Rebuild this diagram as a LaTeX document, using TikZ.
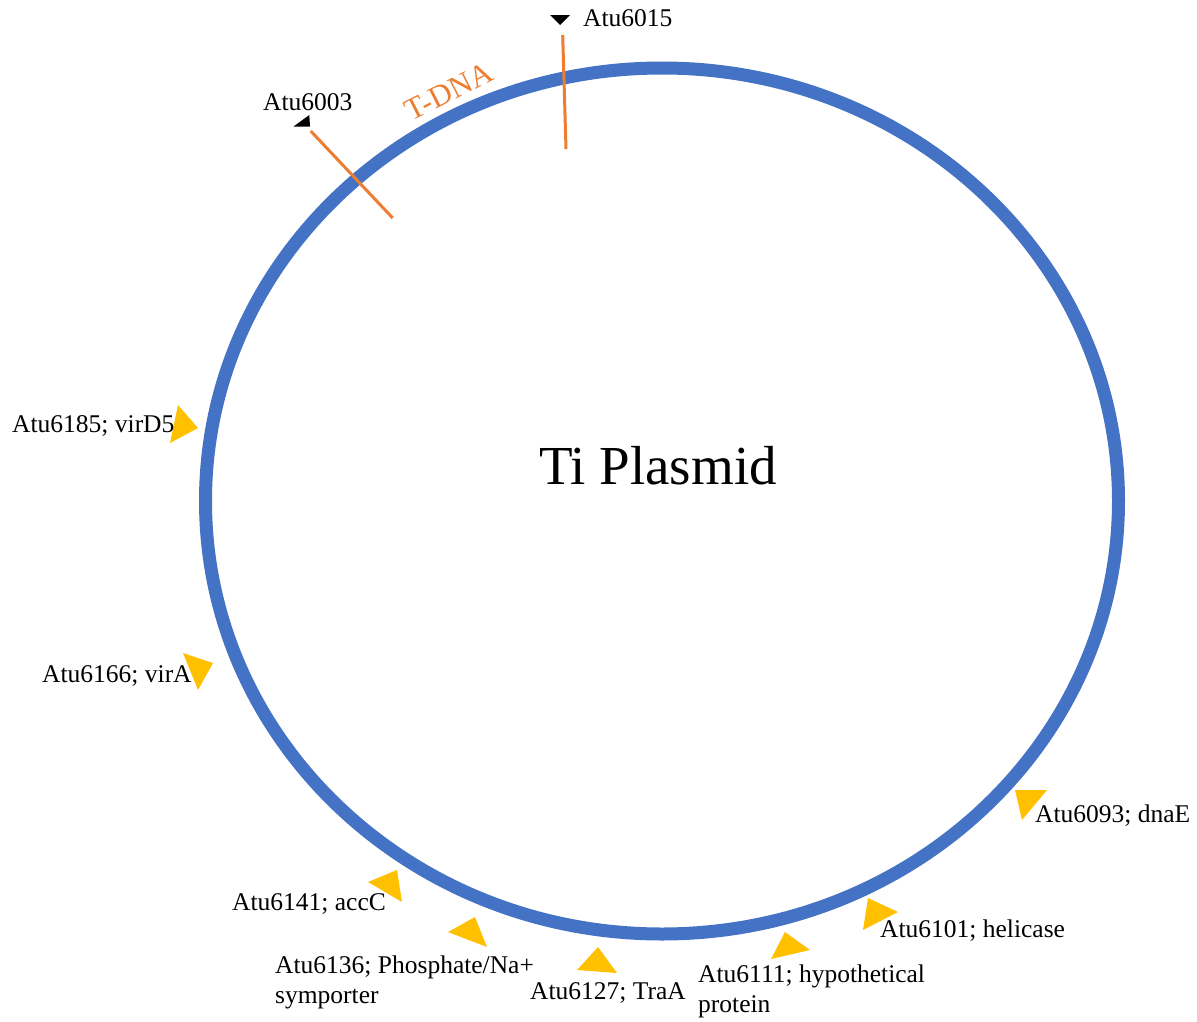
\documentclass[tikz,border=0pt]{standalone}
\usepackage{fontspec}
\setmainfont{Liberation Serif}
\definecolor{ringblue}{HTML}{4472C4}
\definecolor{tdnaorange}{HTML}{ED7D31}
\definecolor{geneyellow}{HTML}{FFC000}
\begin{document}
\begin{tikzpicture}[x=1pt,y=-1pt,
  lbl/.style={font=\fontsize{25.5}{30}\selectfont, inner sep=0pt, anchor=base west, align=left},
  genetri/.style={fill=geneyellow, draw=none},
  bordertri/.style={fill=black, draw=none},
  cutline/.style={draw=tdnaorange, line width=3pt}]
\useasboundingbox (0,0) rectangle (1197,1021);
% plasmid ring
\draw[ringblue, line width=13pt] (662,501) ellipse [x radius=456.5pt, y radius=433pt];
\node[font=\fontsize{55}{60}\selectfont, inner sep=0pt] (title) at (658,466) {Ti Plasmid};
% T-DNA borders
\coordinate (b1a) at (310.7,131);
\coordinate (b1b) at (392.7,218);
\coordinate (b2a) at (562.7,35);
\coordinate (b2b) at (566,149);
\draw[cutline] (b1a) -- (b1b);
\draw[cutline] (b2a) -- (b2b);
\node[text=tdnaorange, font=\fontsize{31}{34}\selectfont, rotate=27, inner sep=0pt] (tdna) at (449,91) {T-DNA};
\fill[bordertri] (550,15) -- (570,15) -- (560,25) -- cycle;
\fill[bordertri] (309.3,115) -- (310,126.7) -- (293.3,126.7) -- cycle;
\node[lbl] (l6015) at (583,26) {Atu6015};
\node[lbl] (l6003) at (263,110) {Atu6003};
% genes
\fill[genetri] (178,405) -- (198,428) -- (170,443) -- cycle;
\node[lbl] (l6185) at (12,432) {Atu6185; virD5};
\fill[genetri] (183,653) -- (213,663) -- (198,690) -- cycle;
\node[lbl] (l6166) at (42,682) {Atu6166; virA};
\fill[genetri] (368,882) -- (397,870) -- (402,902) -- cycle;
\node[lbl] (l6141) at (232,910) {Atu6141; accC};
\fill[genetri] (448,932) -- (475,917) -- (487,947) -- cycle;
\node[lbl] (l6136) at (275,1003) {Atu6136; Phosphate/Na+\\symporter};
\fill[genetri] (577,970) -- (598,947) -- (617,973) -- cycle;
\node[lbl] (l6127) at (530,999) {Atu6127; TraA};
\fill[genetri] (771,959) -- (785,932) -- (810,950) -- cycle;
\node[lbl] (l6111) at (698,1012) {Atu6111; hypothetical\\protein};
\fill[genetri] (863,930) -- (868,898) -- (898,912) -- cycle;
\node[lbl] (l6101) at (880,937) {Atu6101; helicase};
\fill[genetri] (1015,790) -- (1047,790) -- (1022,820) -- cycle;
\node[lbl] (l6093) at (1035,822) {Atu6093; dnaE};
\end{tikzpicture}
\end{document}
